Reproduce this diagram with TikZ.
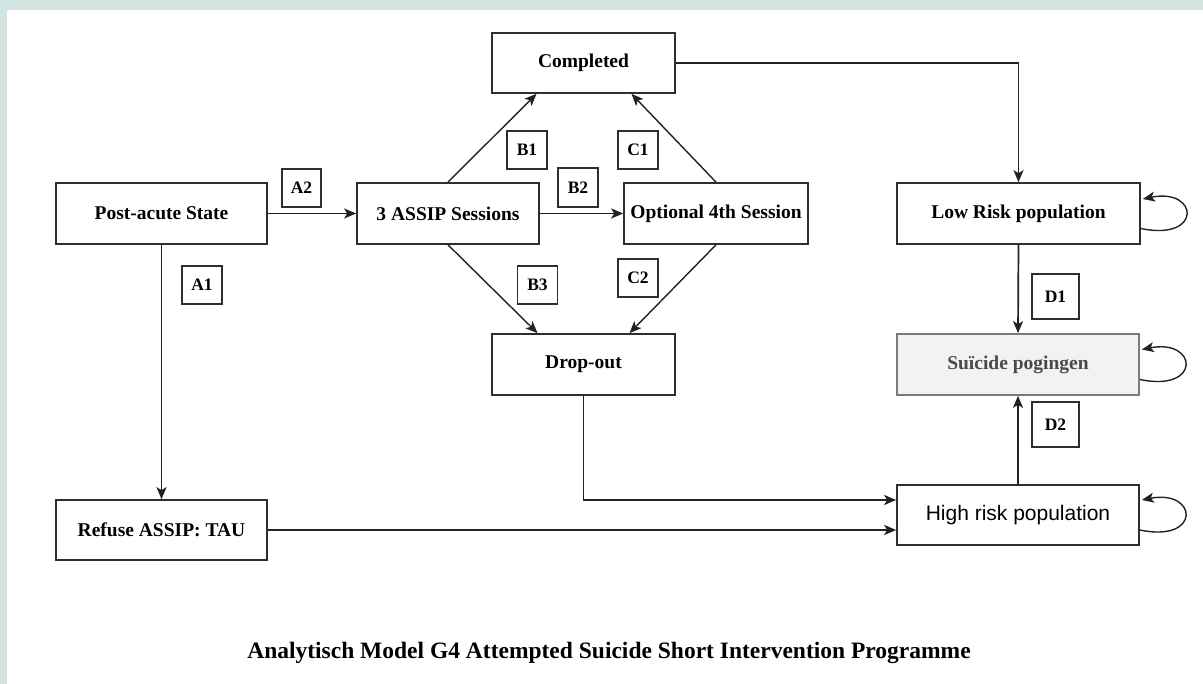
\documentclass[tikz,border=0pt]{standalone}
\usepackage{fontspec}
\setmainfont{Liberation Serif}
\newfontfamily\arialfont{Liberation Sans}
\usetikzlibrary{arrows.meta,calc}
\definecolor{frameteal}{HTML}{D1E4E2}
\definecolor{edgegray}{HTML}{222222}
\definecolor{boxgray}{HTML}{2E2E2E}
\definecolor{softfill}{HTML}{F2F2F2}
\definecolor{softtext}{HTML}{4A4A4A}
\definecolor{softedge}{HTML}{7A7A7A}
\begin{document}
\begin{tikzpicture}[x=1pt,y=-1pt,
  statebox/.style={draw=boxgray,line width=1.7pt,fill=white,inner sep=0pt,
    font=\fontsize{19.5}{22}\selectfont\bfseries,align=center},
  tagbox/.style={draw=boxgray,line width=1.5pt,fill=white,inner sep=0pt,
    minimum width=40pt,minimum height=38pt,
    font=\fontsize{17.5}{20}\selectfont\bfseries},
  flow/.style={draw=edgegray,line width=1.7pt,
    -{Stealth[length=12pt,width=10pt,inset=3pt]}},
  thin flow/.style={draw=edgegray,line width=1.4pt,
    -{Stealth[length=12pt,width=10pt,inset=3pt]}}]
% page and frame
\fill[frameteal] (0,0) rectangle (1203,684);
\fill[white] (7,10) rectangle (1203,684);
\useasboundingbox (0,0) rectangle (1203,684);

% states
\node[statebox,minimum width=211pt,minimum height=61pt] (post) at (161.5,213.5) {Post-acute State};
\node[statebox,minimum width=182pt,minimum height=61pt] (assip) at (448,213.5) {3 ASSIP Sessions};
\node[statebox,minimum width=184pt,minimum height=61pt] (opt) at (716,213.5) {Optional 4th Session};
\node[statebox,minimum width=183pt,minimum height=60pt] (comp) at (583.5,63) {Completed};
\node[statebox,minimum width=183pt,minimum height=61pt] (drop) at (583.5,364.5) {Drop-out};
\node[statebox,minimum width=211pt,minimum height=60pt] (refuse) at (161.5,530) {Refuse ASSIP: TAU};
\node[statebox,minimum width=243pt,minimum height=61pt] (low) at (1018.5,213.5) {Low Risk population};
\node[statebox,minimum width=242pt,minimum height=61pt,fill=softfill,draw=softedge,text=softtext] (sui) at (1018,364.5) {Suïcide pogingen};
\node[statebox,minimum width=242pt,minimum height=60pt,font=\arialfont\fontsize{21}{24}\selectfont] (high) at (1018,515) {High risk population};

% transition tags
\node[tagbox,minimum width=39pt] (tA2) at (301.5,188) {A2};
\node[tagbox] (tA1) at (202,285) {A1};
\node[tagbox] (tB1) at (527,150) {B1};
\node[tagbox,minimum height=39pt] (tB2) at (578,187.5) {B2};
\node[tagbox] (tC1) at (638,150) {C1};
\node[tagbox] (tB3) at (537.5,285) {B3};
\node[tagbox] (tC2) at (638,278) {C2};
\node[tagbox,minimum width=47pt,minimum height=45pt] (tD1) at (1055.5,296.5) {D1};
\node[tagbox,minimum width=47pt,minimum height=45pt] (tD2) at (1055.5,424.5) {D2};

% transitions
\draw[flow] (post.east) -- (assip.west);
\draw[flow] (post.south) -- (refuse.north);
\draw[flow] (assip.east) -- (opt.west);
\draw[thin flow] (assip.north) -- ($(comp.south)+(-47,0)$);
\draw[thin flow] (opt.north) -- ($(comp.south)+(48,0)$);
\draw[thin flow] (assip.south) -- ($(drop.north)+(-46,0)$);
\draw[thin flow] (opt.south) -- ($(drop.north)+(46,0)$);
\draw[flow] (comp.east) -| (low.north);
\draw[flow] (drop.south) |- ($(high.west)+(0,-15)$);
\draw[flow] (refuse.east) -- (refuse.east -| high.west);
\draw[flow] (low.south) -- (sui.north);
\draw[flow] (high.north) -- (sui.south);

% self loops
\draw[thin flow] ($(low.east)+(0,15)$) .. controls ($(low.east)+(62,28)$) and ($(low.east)+(58,-26)$) .. ($(low.east)+(2,-14.5)$);
\draw[thin flow] ($(sui.east)+(0,15)$) .. controls ($(sui.east)+(62,28)$) and ($(sui.east)+(58,-26)$) .. ($(sui.east)+(2,-15)$);
\draw[thin flow] ($(high.east)+(0,15)$) .. controls ($(high.east)+(62,28)$) and ($(high.east)+(58,-26)$) .. ($(high.east)+(2,-15)$);

% caption
\node[font=\fontsize{23.5}{27}\selectfont\bfseries] (caption) at (609,653) {Analytisch Model G4 Attempted Suicide Short Intervention Programme};
\end{tikzpicture}
\end{document}
